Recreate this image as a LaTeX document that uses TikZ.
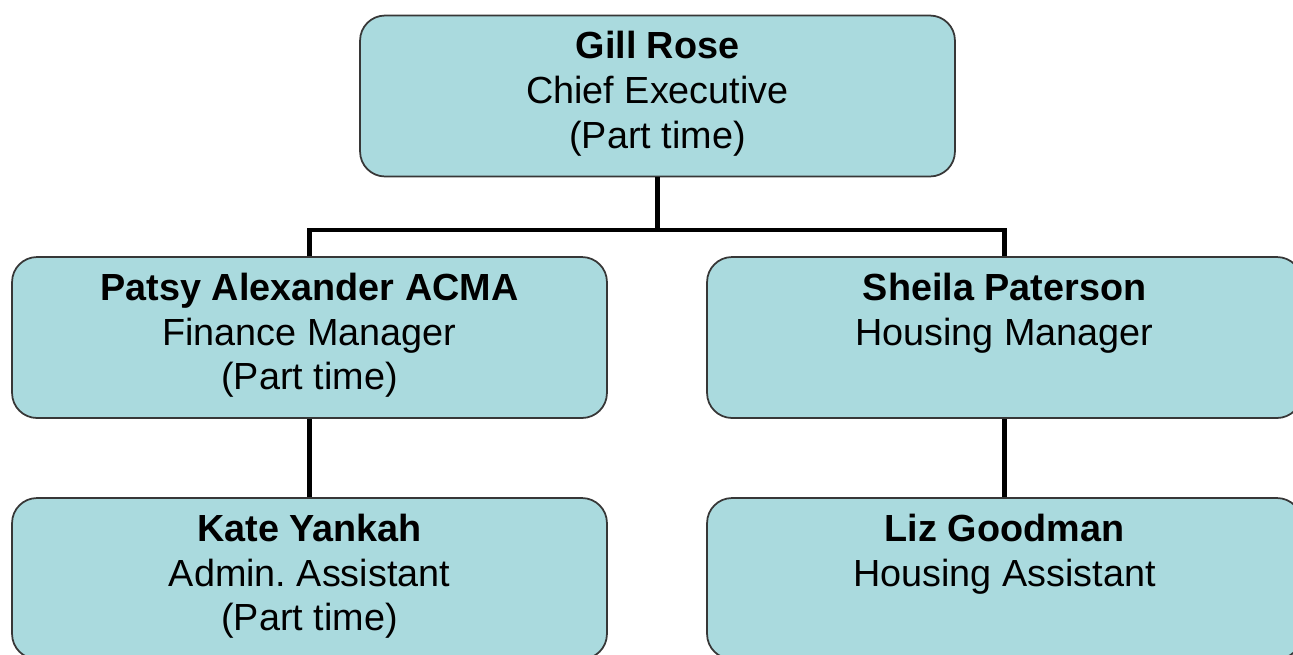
\documentclass[tikz,border=0pt]{standalone}
\usepackage{fontspec}
\setmainfont{Liberation Sans}
\definecolor{boxfill}{RGB}{170,218,222}
\definecolor{boxline}{RGB}{55,55,55}
\newcommand{\staff}[2]{\parbox[c][3.22cm][t]{11.9cm}{\centering\rule{0pt}{0.86cm}\textbf{#1}\\#2}}
\tikzset{
  post/.style={rectangle, rounded corners=0.5cm, draw=boxline, line width=1pt, fill=boxfill,
    minimum width=11.9cm, minimum height=3.22cm, inner sep=0pt,
    font=\fontsize{21.5}{25.6}\selectfont},
  link/.style={line width=2.8pt, black}
}
\begin{document}
\begin{tikzpicture}[x=0.02cm, y=-0.02cm]
\useasboundingbox (0,0) rectangle (1293,654);

\node[post] (chief) at (657.5,96) {\staff{Gill Rose}{Chief Executive\\(Part time)}};
\node[post] (finance) at (309.5,337.5) {\staff{Patsy Alexander ACMA}{Finance Manager\\(Part time)}};
\node[post] (housing) at (1004.5,337.5) {\staff{Sheila Paterson}{Housing Manager}};
\node[post] (admin) at (309.5,578.5) {\staff{Kate Yankah}{Admin.\ Assistant\\(Part time)}};
\node[post] (assistant) at (1004.5,578.5) {\staff{Liz Goodman}{Housing Assistant}};

\coordinate (bar) at (657.5,230);
\draw[link] (chief.south) -- (bar);
\draw[link] (finance.north) |- (bar) -| (housing.north);
\draw[link] (finance.south) -- (admin.north);
\draw[link] (housing.south) -- (assistant.north);
\end{tikzpicture}
\end{document}
